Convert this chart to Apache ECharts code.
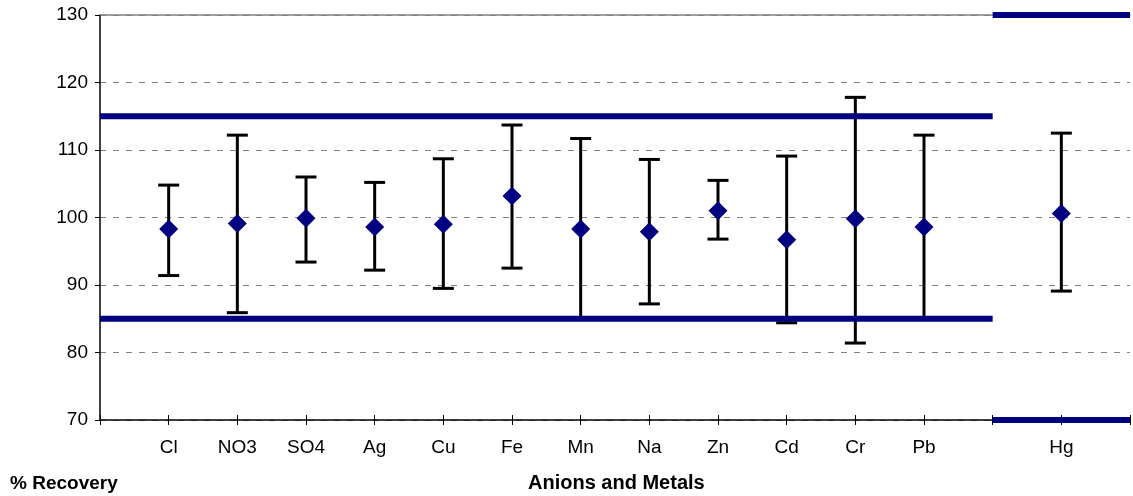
<!DOCTYPE html>
<html>
<head>
<meta charset="utf-8">
<script src="https://cdn.jsdelivr.net/npm/echarts@6/dist/echarts.min.js"></script>
<style>
  html, body { margin: 0; padding: 0; background: #fff; }
  #chart { width: 1133px; height: 496px; }
</style>
</head>
<body>
<div id="chart"></div>
<script>
// Analytes along the x axis (position = index + 1); the blank slot separates Hg
const categories = ['Cl', 'NO3', 'SO4', 'Ag', 'Cu', 'Fe', 'Mn', 'Na', 'Zn', 'Cd', 'Cr', 'Pb', '', 'Hg'];

// Mean % recovery and its lower / upper bounds per analyte (null = blank slot)
const meanRecovery = [98.3, 99.1, 99.9, 98.6, 99.0, 103.2, 98.3, 97.9, 101.0, 96.7, 99.8, 98.6, null, 100.6];
const lowRecovery  = [91.4, 85.9, 93.4, 92.2, 89.5, 92.5, 85.0, 87.2, 96.8, 84.4, 81.4, 85.0, null, 89.1];
const highRecovery = [104.8, 112.2, 106.0, 105.2, 108.7, 113.7, 111.7, 108.6, 105.5, 109.1, 117.8, 112.2, null, 112.5];

// Acceptance limits: anions and most metals 85-115, mercury 70-130
const limitLines = [
  [[0, 85], [13, 85]],
  [[0, 115], [13, 115]],
  [[13, 70], [15, 70]],
  [[13, 130], [15, 130]]
];

const yTicks = [70, 80, 90, 100, 110, 120, 130];

const FONT = '"Liberation Sans", Arial, sans-serif';
const NAVY = '#000080';

const points = [];
const bars = [];
categories.forEach((name, i) => {
  if (meanRecovery[i] == null) return;
  points.push([i + 1, meanRecovery[i]]);
  bars.push([i + 1, lowRecovery[i], highRecovery[i]]);
});

const chart = echarts.init(document.getElementById('chart'), null, { renderer: 'canvas' });

const baseX = {
  type: 'value', min: 0, max: 15, interval: 1,
  splitLine: { show: false }
};

chart.setOption({
  animation: false,
  backgroundColor: '#ffffff',
  grid: { left: 100, right: 0, top: 15, bottom: 76, containLabel: false },
  xAxis: [
    Object.assign({}, baseX, {
      position: 'bottom',
      axisLine: { show: true, lineStyle: { color: '#000', width: 1.5 } },
      axisTick: { show: true, inside: true, length: 5, lineStyle: { color: '#000', width: 1 } },
      axisLabel: {
        show: true, margin: 18, color: '#000', fontFamily: FONT, fontSize: 19,
        formatter: v => (v >= 1 && v <= categories.length ? categories[v - 1] : '')
      }
    }),
    Object.assign({}, baseX, {
      position: 'bottom',
      axisLine: { show: false },
      axisTick: { show: true, inside: false, length: 5, lineStyle: { color: '#000', width: 1 } },
      axisLabel: { show: false }
    }),
    Object.assign({}, baseX, {
      position: 'top',
      axisLine: { show: true, lineStyle: { color: '#808080', width: 1.5 } },
      axisTick: { show: false },
      axisLabel: { show: false }
    })
  ],
  yAxis: {
    type: 'value', min: yTicks[0], max: yTicks[yTicks.length - 1], interval: 10,
    axisLine: { show: true, lineStyle: { color: '#000', width: 1.5 } },
    axisTick: { show: true, length: 5, lineStyle: { color: '#000', width: 1 } },
    axisLabel: { margin: 12, color: '#000', fontFamily: FONT, fontSize: 19 },
    splitLine: { show: true, lineStyle: { color: '#808080', width: 1, type: [6, 7] } }
  },
  graphic: [
    { type: 'text', left: 10, top: 474,
      style: { text: '% Recovery', font: 'bold 19px ' + FONT, fill: '#000' } },
    { type: 'text', left: 528, top: 473,
      style: { text: 'Anions and Metals', font: 'bold 20px ' + FONT, fill: '#000' } }
  ],
  series: [
    {
      type: 'custom',
      name: 'range',
      z: 2,
      data: bars,
      encode: { x: 0, y: [1, 2] },
      renderItem: (params, api) => {
        const x = api.value(0);
        const lo = api.coord([x, api.value(1)]);
        const hi = api.coord([x, api.value(2)]);
        const half = 10.5;
        const st = { stroke: '#000', lineWidth: 3 };
        return {
          type: 'group',
          children: [
            { type: 'line', shape: { x1: hi[0], y1: hi[1], x2: lo[0], y2: lo[1] }, style: st },
            { type: 'line', shape: { x1: hi[0] - half, y1: hi[1], x2: hi[0] + half, y2: hi[1] }, style: st },
            { type: 'line', shape: { x1: lo[0] - half, y1: lo[1], x2: lo[0] + half, y2: lo[1] }, style: st }
          ]
        };
      }
    },
    ...limitLines.map((seg, k) => ({
      type: 'line',
      name: 'limit' + k,
      z: 3,
      data: seg,
      clip: false,
      symbol: 'none',
      lineStyle: { color: NAVY, width: 6 },
      silent: true
    })),
    {
      type: 'scatter',
      name: 'mean',
      z: 4,
      data: points,
      symbol: 'diamond',
      symbolSize: [19, 19],
      itemStyle: { color: NAVY, opacity: 1 }
    }
  ]
});
</script>
</body>
</html>
